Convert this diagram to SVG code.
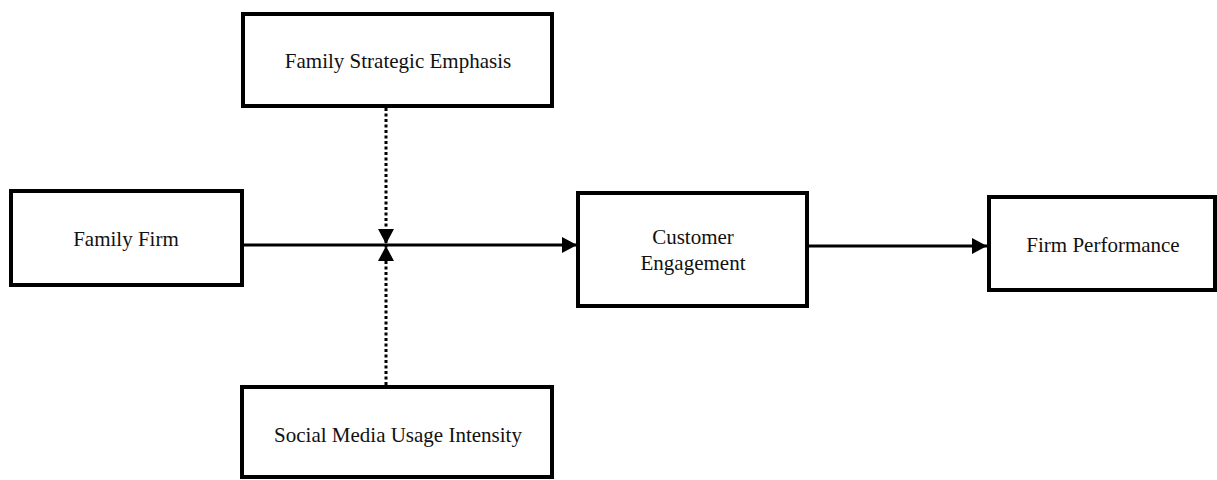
<svg xmlns="http://www.w3.org/2000/svg" width="1217" height="480" viewBox="0 0 1217 480">
  <style>
    .box { fill: #ffffff; stroke: #000000; stroke-width: 4; }
    .lbl { font-family: "Liberation Serif", "Times New Roman", serif; font-size: 21px; fill: #111111; text-anchor: middle; }
    .solid { stroke: #000000; stroke-width: 3; fill: none; }
    .dotted { stroke: #000000; stroke-width: 3; fill: none; stroke-dasharray: 3 2.5; }
  </style>
  <defs>
    <marker id="arrow" markerUnits="userSpaceOnUse" markerWidth="16" markerHeight="16" refX="15" refY="8" orient="auto">
      <path d="M0,0 L15,8 L0,16 z" fill="#000000"/>
    </marker>
  </defs>
  <rect width="1217" height="480" fill="#ffffff"/>

  <g id="connectors">
    <line class="solid" x1="244" y1="245" x2="577" y2="245" marker-end="url(#arrow)"/>
    <line class="solid" x1="809" y1="246" x2="987" y2="246" marker-end="url(#arrow)"/>
    <line class="dotted" x1="386" y1="108" x2="386" y2="244" marker-end="url(#arrow)"/>
    <line class="dotted" x1="386" y1="385" x2="386" y2="246" marker-end="url(#arrow)"/>
  </g>

  <g id="node-family-strategic-emphasis">
    <rect class="box" x="243" y="14" width="309" height="92"/>
    <text class="lbl" x="398" y="68">Family Strategic Emphasis</text>
  </g>

  <g id="node-family-firm">
    <rect class="box" x="11" y="191" width="231" height="94"/>
    <text class="lbl" x="126" y="246">Family Firm</text>
  </g>

  <g id="node-customer-engagement">
    <rect class="box" x="578" y="193" width="229" height="113"/>
    <text class="lbl" x="693" y="244">Customer</text>
    <text class="lbl" x="693" y="270">Engagement</text>
  </g>

  <g id="node-firm-performance">
    <rect class="box" x="989" y="197" width="226" height="93"/>
    <text class="lbl" x="1103" y="252">Firm Performance</text>
  </g>

  <g id="node-social-media-usage-intensity">
    <rect class="box" x="242" y="387" width="310" height="90"/>
    <text class="lbl" x="398" y="442">Social Media Usage Intensity</text>
  </g>
</svg>
